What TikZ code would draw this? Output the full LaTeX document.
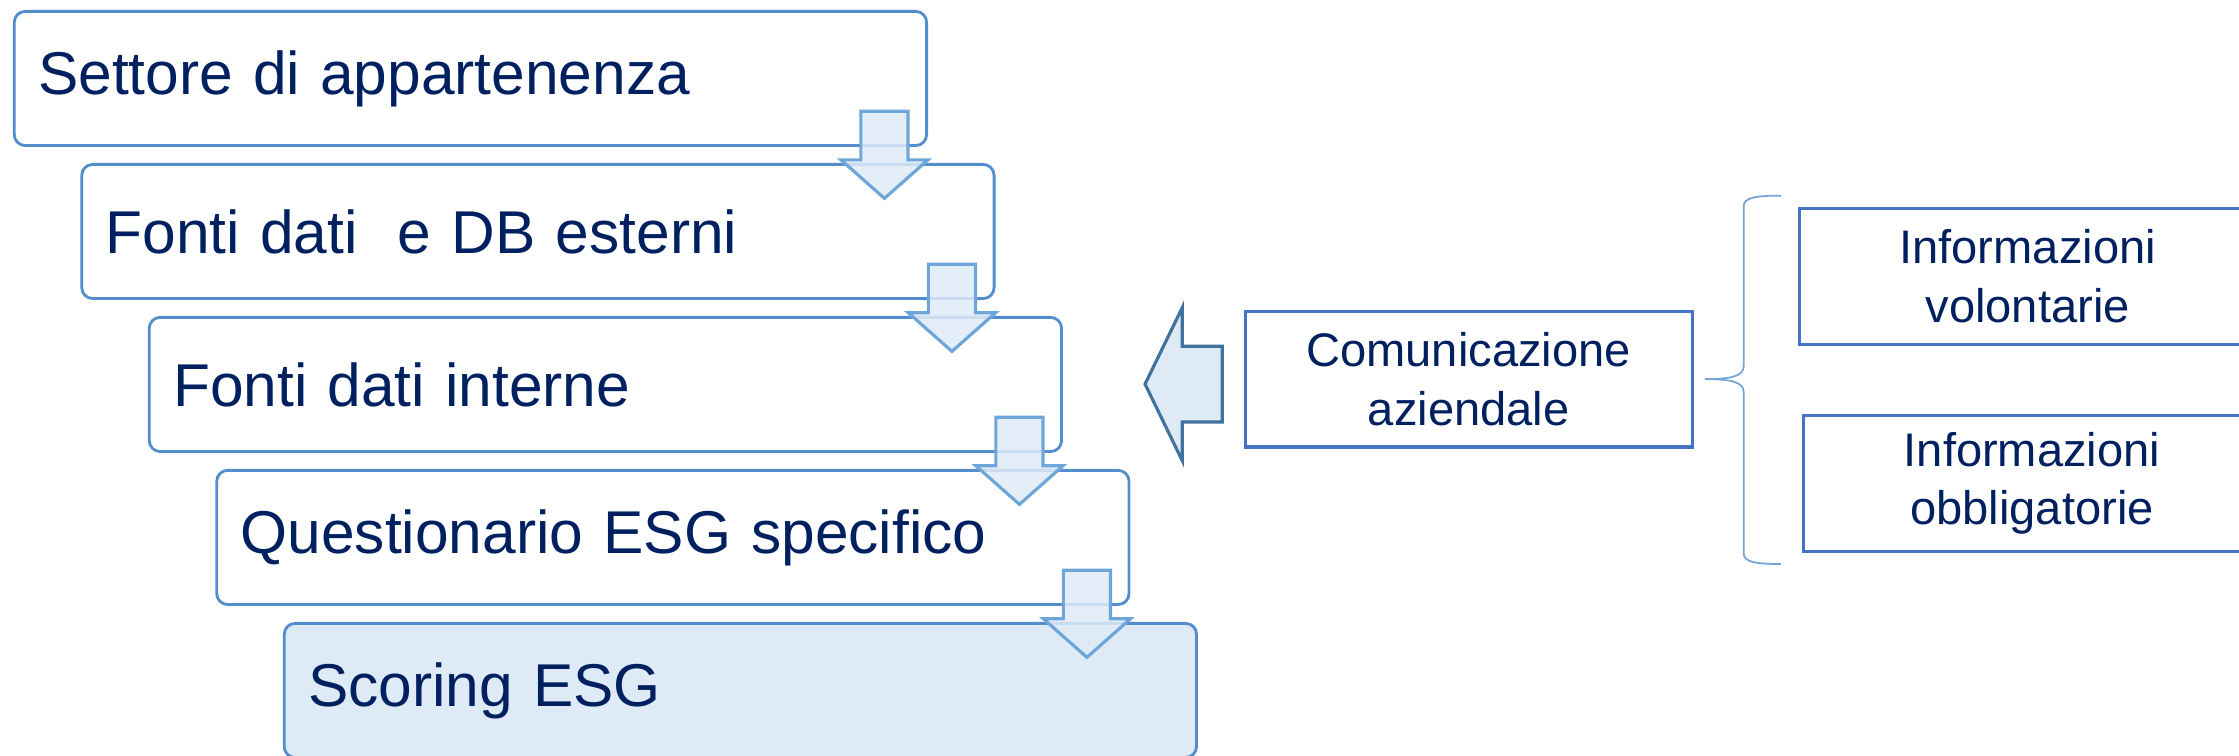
\documentclass[tikz,border=0pt]{standalone}
\usepackage{fontspec}
\setmainfont{Liberation Sans}
\usetikzlibrary{positioning}
\usetikzlibrary{calc}
\definecolor{testo}{RGB}{0,32,96}
\definecolor{bordo}{RGB}{84,141,204}
\definecolor{freccia}{RGB}{111,166,218}
\definecolor{riempi}{RGB}{222,235,247}
\definecolor{scuro}{RGB}{68,114,196}
\definecolor{sinistra}{RGB}{65,113,156}

\begin{document}
\begin{tikzpicture}[x=0.01428cm, y=-0.01428cm,
    passo/.style={draw=bordo, line width=0.8pt, rounded corners=0.11cm, anchor=north west, text width=8.645cm, inner xsep=0.24cm, minimum height=1.342cm, align=left, text=testo, font=\fontsize{17.2}{21}\selectfont},
    riquadro/.style={draw=scuro, line width=0.9pt, minimum height=1.357cm, align=center, text=testo, font=\fontsize{13.4}{16.6}\selectfont},
    giu/.style={draw=freccia, line width=0.9pt, fill=riempi, fill opacity=0.85, line join=miter},
    graffa/.style={draw=bordo!80, line width=0.5pt}]
    \useasboundingbox (0,0) rectangle (1568,529);

    % colonna di sinistra
    \node[passo] (s1) at (9,7) {Settore di appartenenza};
    \node[passo, below right=0.16cm and 0.675cm of s1.south west] (s2) {Fonti dati\ \ e DB esterni};
    \node[passo, below right=0.16cm and 0.675cm of s2.south west] (s3) {Fonti dati interne};
    \node[passo, below right=0.16cm and 0.675cm of s3.south west] (s4) {Questionario ESG specifico};
    \node[passo, below right=0.16cm and 0.675cm of s4.south west, fill=riempi] (s5) {Scoring ESG};

    \foreach \a/\b in {s1/s2, s2/s3, s3/s4, s4/s5}
        \draw[giu, shift={(\a.south east)}] (-47,-25) -- (-14,-25) -- (-14,9) -- (0,9) -- (-30.5,36) -- (-61,9) -- (-47,9) -- cycle;

    % parte di destra
    \node[riquadro, minimum width=4.47cm] (comm) at (1028.5,265.5) {Comunicazione\\aziendale};
    \node[riquadro, minimum width=4.57cm] (vol) at (1420,193.5) {Informazioni\\volontarie};
    \node[riquadro, minimum width=4.57cm, below=0.685cm of vol, xshift=0.043cm] (obb) {Informazioni\\obbligatorie};

    \draw[draw=sinistra, line width=0.9pt, fill=riempi, line join=miter, shift={(comm.west)}] (-15,-23) -- (-15,30) -- (-43,30) -- (-43,57) -- (-69,3.5) -- (-43,-50) -- (-43,-23) -- cycle;

    \coordinate (gr) at ($(comm.east)+(8,0)$);
    \draw[graffa, shift={(gr)}] (0,0) .. controls (18,0) and (27,-2) .. (27,-9) -- (27,-121) .. controls (27,-127) and (35,-128.5) .. (53,-128.5);
    \draw[graffa, shift={(gr)}] (0,0) .. controls (18,0) and (27,2) .. (27,9) -- (27,122) .. controls (27,128) and (35,129.5) .. (53,129.5);
\end{tikzpicture}
\end{document}
